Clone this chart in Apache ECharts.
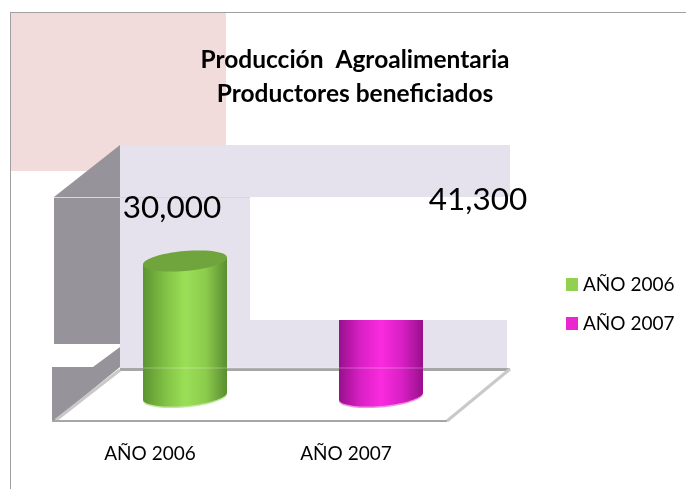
<!DOCTYPE html>
<html>
<head>
<meta charset="utf-8">
<style>html,body{margin:0;padding:0;background:#fff}#c{width:686px;height:489px}</style>
<script src="https://cdn.jsdelivr.net/npm/echarts@6/dist/echarts.min.js"></script>
</head>
<body>
<div id="c"></div>
<script>
const categories = ['AÑO 2006', 'AÑO 2007'];
const seriesNames = ['AÑO 2006', 'AÑO 2007'];
const values = [30000, 41300];
const legendColors = ['#92D050', '#E926CF'];
const bodyStops = [
  ['#5c9431', '#7fbf43', '#9bdf57', '#8ccb4c', '#598e30'],
  ['#98108c', '#d81fc4', '#fa2bde', '#d81fc4', '#98108c']
];
const capColors = ['#6fa53c', '#a0168f'];
const rimColors = ['#bfe89a', '#f08fe4'];
const labelOffsets = [[-13, -53], [97, -10]];

const depthX = 35, depthY = -25, halfW = 42, capRy = 10, skew = 3.5;
const font = 'Lato, "Open Sans", sans-serif';

function capPoints(cx, cy) {
  const pts = [];
  for (let k = 0; k < 72; k++) {
    const t = k / 72 * 2 * Math.PI;
    pts.push([cx + halfW * Math.cos(t), cy + capRy * Math.sin(t) - skew * Math.cos(t)]);
  }
  return pts;
}

function cylinder(idx) {
  return function (params, api) {
    const base = api.coord([api.value(0), 0]);
    const top = api.coord([api.value(0), api.value(1)]);
    const cx = base[0] + depthX, by = base[1] + depthY, ty = top[1] + depthY;
    const stops = bodyStops[idx].map((c, i) => ({ offset: i / 4, color: c }));
    const grad = { type: 'linear', x: 0, y: 0, x2: 1, y2: 0, colorStops: stops };
    const cap = (cy, fill) => ({ type: 'polygon', shape: { points: capPoints(cx, cy) }, style: { fill } });
    return {
      type: 'group',
      children: [
        cap(by + 1.5, rimColors[idx]),
        cap(by, grad),
        { type: 'polygon',
          shape: { points: [[cx - halfW, ty + skew], [cx + halfW, ty - skew], [cx + halfW, by - skew], [cx - halfW, by + skew]] },
          style: { fill: grad } },
        cap(ty, capColors[idx])
      ]
    };
  };
}

const wall = '#E5E1ED', side = '#96939B', edge = '#A6A6A6', edgeLight = '#C9C9C9';
const poly = (points, fill, z) => ({ type: 'polygon', z: z || 0, shape: { points }, style: { fill } });
const rect = (x, y, width, height, fill, z) => ({ type: 'rect', z: z || 0, shape: { x, y, width, height }, style: { fill } });
const line = (x1, y1, x2, y2, stroke, lineWidth, z) => ({ type: 'line', z: z || 0, shape: { x1, y1, x2, y2 }, style: { stroke, lineWidth } });

const graphics = [
  rect(11, 13, 215, 158, '#F2DCDB'),
  rect(120, 145, 390, 52, wall),
  rect(120, 197, 130, 123, wall),
  rect(120, 320, 387, 48, wall),
  poly([[54, 197], [120, 145], [120, 344], [54, 344]], side),
  poly([[93, 367], [120, 347], [120, 367]], side),
  poly([[52, 367], [120, 367], [54, 421], [52, 421]], side),
  poly([[120, 370], [510, 370], [447, 421], [54, 421]], '#FFFFFF'),
  line(120, 369.5, 510, 369.5, edge, 3),
  line(510, 369, 447, 421, edgeLight, 3),
  line(120, 370, 56, 420, edgeLight, 3),
  line(52, 421, 447, 421, edge, 2),
  line(10.5, 12, 10.5, 489, '#A0A0A0', 1),
  line(10, 12.5, 686, 12.5, '#A0A0A0', 1),
  line(54, 197.5, 250, 197.5, '#D8D6DE', 1),
  rect(250, 198, 261, 122, '#FFFFFF', 3),
  line(143, 368, 423, 368, 'rgba(255,255,255,0.3)', 1, 3)
];

const chart = echarts.init(document.getElementById('c'), null, { renderer: 'canvas' });
chart.setOption({
  animation: false,
  backgroundColor: '#fff',
  title: {
    text: 'Producción  Agroalimentaria\nProductores beneficiados',
    left: 350, top: 38, textAlign: 'center',
    textStyle: { fontFamily: font, fontSize: 24.5, fontWeight: 'bold', color: '#000', lineHeight: 34 }
  },
  legend: {
    data: seriesNames, orient: 'vertical', left: 561, top: 270,
    itemWidth: 12, itemHeight: 13, itemGap: 20, icon: 'rect',
    textStyle: { fontFamily: font, fontSize: 19, color: '#000' }
  },
  grid: { left: 52, top: 151, width: 392, height: 270 },
  xAxis: {
    type: 'category', data: categories,
    axisLine: { show: false }, axisTick: { show: false },
    axisLabel: { fontFamily: font, fontSize: 19, color: '#000', margin: 23 }
  },
  yAxis: { type: 'value', min: 0, max: 60000, interval: 10000, show: false },
  graphic: graphics,
  series: [
    ...seriesNames.map((name, i) => ({
      type: 'custom', name, z: 2,
      itemStyle: { color: legendColors[i] },
      renderItem: cylinder(i),
      data: [[i, values[i]]],
      encode: { x: 0, y: 1 }
    })),
    {
      type: 'scatter', z: 6, symbolSize: 0, silent: true,
      data: values.map((v, i) => ({
        value: [i, v],
        label: {
          show: true, position: 'inside', fontFamily: font, fontSize: 31.5, color: '#000',
          opacity: 1, textBorderWidth: 0,
          offset: [depthX + labelOffsets[i][0], depthY + labelOffsets[i][1]]
        }
      })),
      itemStyle: { opacity: 1 },
      label: {
        show: true, color: '#000',
        formatter: p => p.value[1].toLocaleString('en-US')
      }
    }
  ]
});
</script>
</body>
</html>
